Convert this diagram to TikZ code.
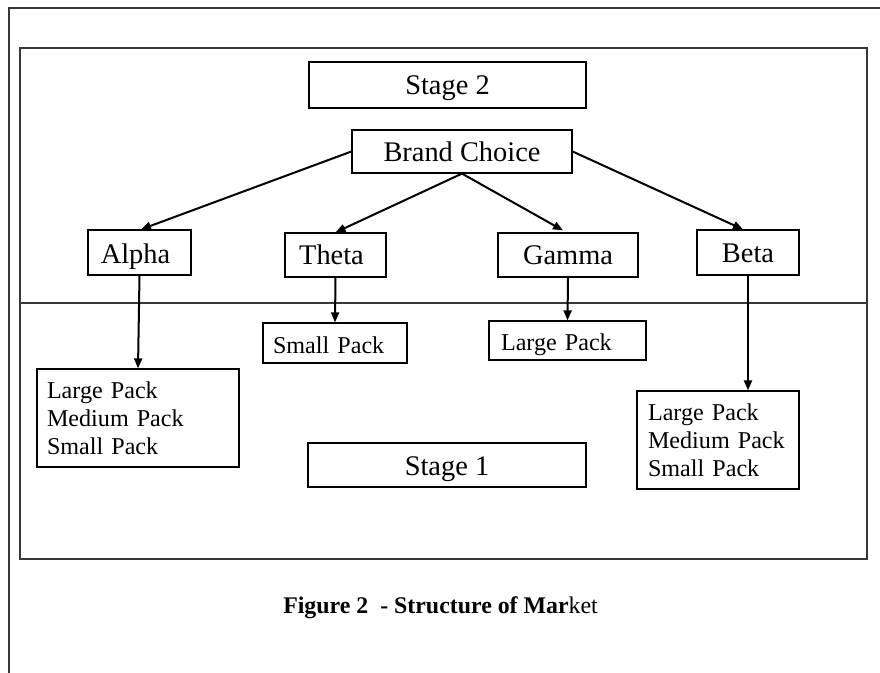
\documentclass[tikz,border=0pt]{standalone}
\usepackage{fontspec}
\setmainfont{Liberation Serif}
\usetikzlibrary{arrows.meta,calc}
\begin{document}
\begin{tikzpicture}[x=0.75pt,y=-0.75pt,
  frameline/.style={draw=black!78,line width=1.5pt},
  box/.style={draw=black,line width=0.9pt,rectangle,inner sep=0pt,text height=15pt,text depth=0pt,font=\fontsize{21.3pt}{24pt}\selectfont},
  packbox/.style={draw=black,line width=0.9pt,rectangle,inner sep=0pt,align=left,font=\fontsize{18.1pt}{21pt}\selectfont},
  arr/.style={line width=1.5pt,draw=black,-{Triangle[length=7.5pt,width=6pt]}}]
\useasboundingbox (0,0) rectangle (880,673);
% outer frame (cut at right and bottom)
\draw[frameline] (8.5,673) -- (8.5,8) -- (880,8);
% stage boxes
\draw[frameline] (20,303) -- (20,48) -- (867,48) -- (867,303);
\draw[frameline] (20,303) -- (867,303);
\draw[frameline] (20,303) -- (20,559) -- (867,559) -- (867,303);
% nodes
\node[box,minimum width=207.75pt,minimum height=34.5pt] (stage2) at (447.5,85) {Stage 2};
\node[box,minimum width=165pt,minimum height=32.25pt] (brand) at (462,151.5) {Brand Choice};
\node[box,minimum width=77.25pt,minimum height=33.75pt,text height=16.5pt] (alpha) at (139.5,252.5) {Alpha\kern6pt};
\node[box,minimum width=75.75pt,minimum height=33pt] (theta) at (335.5,255) {Theta\kern6pt};
\node[box,minimum width=105pt,minimum height=33pt] (gamma) at (568,255) {Gamma};
\node[box,minimum width=76.5pt,minimum height=33.75pt] (beta) at (748,252.5) {Beta};
\node[packbox,minimum width=108pt,minimum height=30pt,text width=93pt,text height=15pt,text depth=0pt] (smallp) at (335,343) {Small Pack};
\node[packbox,minimum width=117.75pt,minimum height=29.25pt,text width=99.75pt,text height=15pt,text depth=0pt] (largep) at (567.5,340.5) {Large Pack};
\node[packbox,minimum width=151.5pt,minimum height=73.5pt,text width=136.5pt] (listL) at (138,418) {Large Pack\\Medium Pack\\Small Pack};
\node[packbox,minimum width=121.5pt,minimum height=73.5pt,text width=105pt] (listR) at (718,440) {Large Pack\\Medium Pack\\Small Pack};
\node[box,minimum width=208.5pt,minimum height=33pt] (stage1) at (447,465) {Stage 1};
% caption
\node[anchor=base west,inner sep=0pt,font=\fontsize{17.9pt}{21pt}\selectfont] (caption) at (283,613) {\textbf{Figure 2\ \ - Structure of Mar}ket};
% connectors
\draw[arr] (brand.west) -- ($(alpha.north)+(1.5,0)$);
\draw[arr] (brand.south) -- (theta.north);
\draw[arr] (brand.south) -- ($(gamma.north)+(-5,-2)$);
\draw[arr] (brand.east) -- ($(beta.north)+(-5,0)$);
\draw[arr] (alpha.south) -- (listL.north);
\draw[arr] (theta.south) -- (smallp.north);
\draw[arr] (gamma.south) -- (largep.north);
\draw[arr] (beta.south) -- (beta.south |- listR.north);
\end{tikzpicture}
\end{document}
